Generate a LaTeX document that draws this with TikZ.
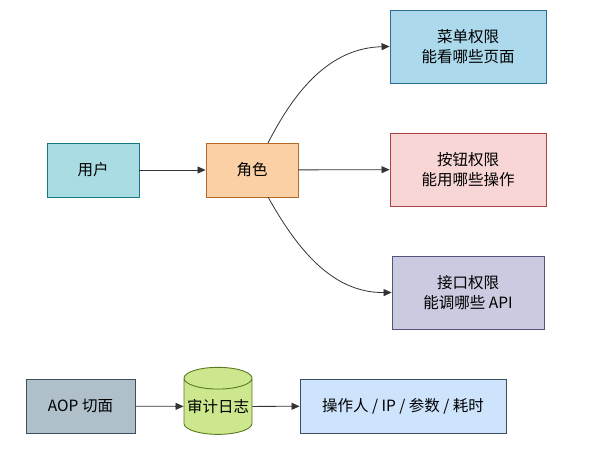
\documentclass[tikz,border=0pt]{standalone}
\usepackage{fontspec}
\setmainfont{Noto Sans CJK SC}
\usetikzlibrary{arrows.meta,shapes.geometric}
\definecolor{userF}{HTML}{A9DDE3}\definecolor{userD}{HTML}{137B80}
\definecolor{roleF}{HTML}{FAD0A4}\definecolor{roleD}{HTML}{B46A24}
\definecolor{menuF}{HTML}{ACD9EC}\definecolor{menuD}{HTML}{2A6D94}
\definecolor{btnF}{HTML}{F9D6D6}\definecolor{btnD}{HTML}{A94442}
\definecolor{apiF}{HTML}{CACBE0}\definecolor{apiD}{HTML}{56517E}
\definecolor{aopF}{HTML}{B0C0CB}\definecolor{aopD}{HTML}{3E4E5C}
\definecolor{logF}{HTML}{CDE78E}\definecolor{logD}{HTML}{5A7A1F}
\definecolor{outF}{HTML}{CDE4FC}\definecolor{outD}{HTML}{3E4E5C}
\definecolor{lineC}{HTML}{333333}
\tikzset{
  box/.style={draw, line width=0.9pt, inner sep=0pt, align=center, font=\fontsize{15.5}{20}\selectfont, text=black},
  conn/.style={draw=lineC, line width=0.8pt, -{Triangle[length=8pt,width=7pt]}},
}
\begin{document}
\begin{tikzpicture}[x=1pt,y=-1pt]
\useasboundingbox (0,0) rectangle (607,450);
\node[box, fill=userF, draw=userD, minimum width=92pt, minimum height=54pt] (user) at (93,170) {用户};
\node[box, fill=roleF, draw=roleD, minimum width=92pt, minimum height=54pt] (role) at (252,170) {角色};
\node[box, fill=menuF, draw=menuD, minimum width=156pt, minimum height=73pt] (menu) at (468,46.5) {菜单权限\\能看哪些页面};
\node[box, fill=btnF, draw=btnD, minimum width=156pt, minimum height=73pt] (btn) at (468,169.5) {按钮权限\\能用哪些操作};
\node[box, fill=apiF, draw=apiD, minimum width=152pt, minimum height=73pt] (api) at (468,292.5) {接口权限\\能调哪些 API};
\coordinate (rt) at (268,143);
\coordinate (rb) at (268,197);
\draw[conn] (user) -- (role);
\draw[conn] (role) -- (btn);
\draw[conn] (rt) .. controls (295,90) and (330,48) .. (menu.west);
\draw[conn] (rb) .. controls (295,245) and (330,293) .. (api.west);
\node[box, fill=aopF, draw=aopD, minimum width=109pt, minimum height=54pt] (aop) at (80.5,406) {AOP 切面};
\node[box, cylinder, shape border rotate=90, aspect=0.35, fill=logF, draw=logD, minimum width=68pt, minimum height=67pt] (log) at (218,406.5) {审计日志};
\node[box, fill=outF, draw=outD, minimum width=206pt, minimum height=54pt] (out) at (403,406) {操作人 / IP / 参数 / 耗时};
\draw[conn] (aop) -- (log);
\draw[conn] (log) -- (out);
\end{tikzpicture}
\end{document}
